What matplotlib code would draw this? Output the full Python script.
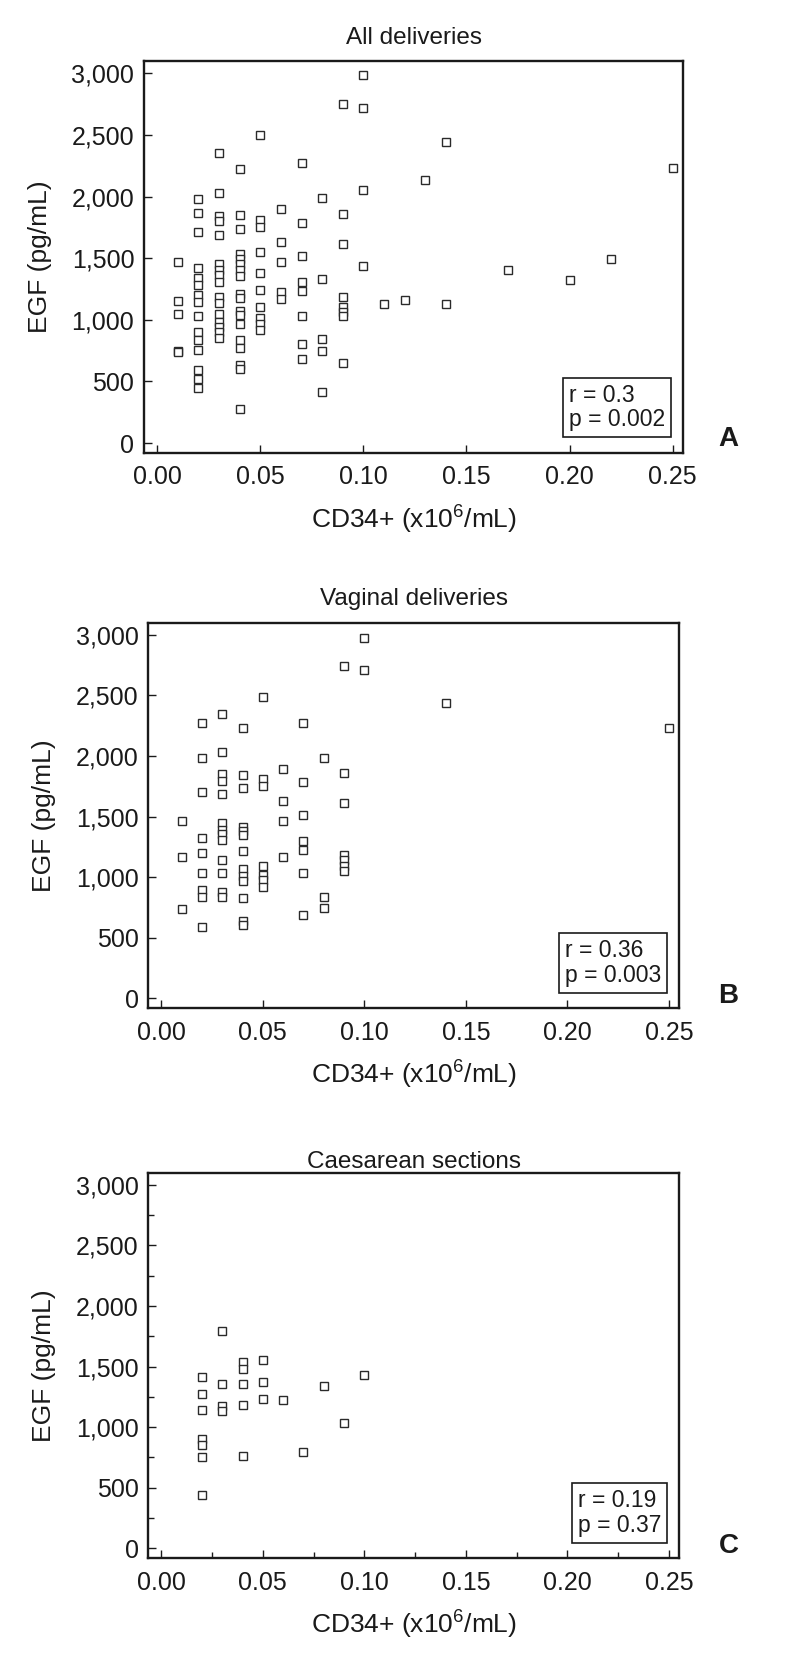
import matplotlib
matplotlib.use('Agg')
import matplotlib.pyplot as plt
from matplotlib import font_manager
from matplotlib.ticker import MultipleLocator, FuncFormatter

# EGF vs CD34+ scatter, three panels (all / vaginal / caesarean)

names = set(f.name for f in font_manager.fontManager.ttflist)
plt.rcParams['font.family'] = ['Liberation Sans' if 'Liberation Sans' in names else 'DejaVu Sans', 'DejaVu Sans']
plt.rcParams['mathtext.default'] = 'regular'

# --- data: x column -> list of EGF values ---
a_cols = [0.01, 0.02, 0.03, 0.04, 0.05, 0.06, 0.07, 0.08, 0.09, 0.10,
          0.11, 0.12, 0.13, 0.14, 0.17, 0.20, 0.22, 0.25]
a_vals = [
    [1467, 1155, 1044, 750, 740],
    [1981, 1867, 1709, 1419, 1338, 1283, 1202, 1147, 1031, 898, 836, 754, 592, 516, 443],
    [2354, 2029, 1844, 1798, 1690, 1451, 1405, 1364, 1310, 1182, 1134, 1044, 984, 944, 898, 849],
    [2227, 1852, 1738, 1532, 1494, 1451, 1405, 1359, 1212, 1174, 1071, 1039, 968, 833, 768, 632, 605, 279],
    [2498, 1809, 1757, 1554, 1378, 1239, 1101, 1017, 963, 917],
    [1901, 1630, 1467, 1229, 1166],
    [2275, 1785, 1516, 1304, 1234, 1033, 800, 686],
    [1988, 1332, 841, 746, 415],
    [2747, 1860, 1614, 1188, 1107, 1066, 1028, 651],
    [2983, 2720, 2053, 1437],
    [1128],
    [1158],
    [2132],
    [2441, 1128],
    [1408],
    [1321],
    [1494],
    [2229],
]

b_cols = [0.01, 0.02, 0.03, 0.04, 0.05, 0.06, 0.07, 0.08, 0.09, 0.10, 0.14, 0.25]
b_vals = [
    [1467, 1163, 740],
    [2273, 1982, 1706, 1327, 1196, 1034, 897, 837, 590],
    [2350, 2029, 1848, 1793, 1689, 1445, 1390, 1357, 1308, 1143, 1034, 875, 838],
    [2227, 1845, 1736, 1418, 1385, 1346, 1215, 1069, 1006, 965, 831, 636, 606],
    [2487, 1810, 1755, 1094, 1015, 973, 916],
    [1892, 1631, 1464, 1163],
    [2273, 1785, 1514, 1300, 1226, 1034, 686],
    [1982, 834, 743],
    [2742, 1856, 1610, 1185, 1143, 1094, 1047],
    [2975, 2712],
    [2440],
    [2227],
]

c_cols = [0.02, 0.03, 0.04, 0.05, 0.06, 0.07, 0.08, 0.09, 0.10]
c_vals = [
    [1415, 1277, 1140, 904, 849, 753, 440],
    [1797, 1360, 1176, 1134],
    [1536, 1483, 1360, 1181, 764],
    [1552, 1376, 1233],
    [1228],
    [799],
    [1338],
    [1036],
    [1434],
]

titles = ['All deliveries', 'Vaginal deliveries', 'Caesarean sections']
stats = ['r = 0.3\np = 0.002', 'r = 0.36\np = 0.003', 'r = 0.19\np = 0.37']
letters = ['A', 'B', 'C']
x_ticks = [0.00, 0.05, 0.10, 0.15, 0.20, 0.25]
y_ticks = [0, 500, 1000, 1500, 2000, 2500, 3000]


def flatten(cols, vals):
    xs, ys = [], []
    for c, v in zip(cols, vals):
        for val in v:
            xs.append(c)
            ys.append(val)
    return xs, ys


fig = plt.figure(figsize=(7.87, 16.61), dpi=100)

# axes boxes [left, bottom, width, height]
boxes = [
    [0.183, 0.7273, 0.685, 0.2360],
    [0.1884, 0.3931, 0.6748, 0.2320],
    [0.1884, 0.0620, 0.6748, 0.2320],
]
letter_y = [0.736, 0.4005, 0.0695]
title_pad = [12, 13, 2]

tick_col = '#1a1a1a'
panels = [(a_cols, a_vals), (b_cols, b_vals), (c_cols, c_vals)]

for i, (cols, vals) in enumerate(panels):
    ax = fig.add_axes(boxes[i])
    xs, ys = flatten(cols, vals)
    ax.plot(xs, ys, linestyle='none', marker='s', markersize=5.4,
            markerfacecolor='white', markeredgecolor='#2a2a2a', markeredgewidth=1.0)

    ax.set_xlim(-0.0064, 0.2551)
    ax.set_ylim(-80, 3100)
    ax.set_xticks(x_ticks)
    ax.set_yticks(y_ticks)
    ax.xaxis.set_major_formatter(FuncFormatter(lambda v, p: '%.2f' % v))
    ax.yaxis.set_major_formatter(FuncFormatter(lambda v, p: '{:,.0f}'.format(v)))
    if i == 2:
        ax.xaxis.set_minor_locator(MultipleLocator(0.025))
        ax.yaxis.set_minor_locator(MultipleLocator(250))
        ax.tick_params(which='minor', direction='in', length=4, width=1.0, color=tick_col)

    ax.tick_params(which='major', direction='in', length=6, width=1.0, color=tick_col,
                   labelsize=18, labelcolor=tick_col)
    ax.tick_params(axis='y', pad=7)
    ax.tick_params(axis='x', pad=9)
    for s in ax.spines.values():
        s.set_linewidth(1.7)
        s.set_color(tick_col)

    ax.set_title(titles[i], fontsize=17.5, color=tick_col, pad=title_pad[i])
    ax.set_xlabel('CD34+ (x10$^{6}$/mL)', fontsize=19, color=tick_col, labelpad=10)
    ax.set_ylabel('EGF (pg/mL)', fontsize=19, color=tick_col, labelpad=14)

    ax.text(0.966, 0.055, stats[i], transform=ax.transAxes, fontsize=16.5,
            color=tick_col, ha='right', va='bottom', multialignment='left',
            linespacing=1.1,
            bbox=dict(boxstyle='square,pad=0.25', facecolor='white',
                      edgecolor=tick_col, linewidth=1.2))

    fig.text(0.913, letter_y[i], letters[i], fontsize=20, fontweight='bold',
             color=tick_col, ha='left', va='center')

fig.savefig('out.png', dpi=100, facecolor='white')
